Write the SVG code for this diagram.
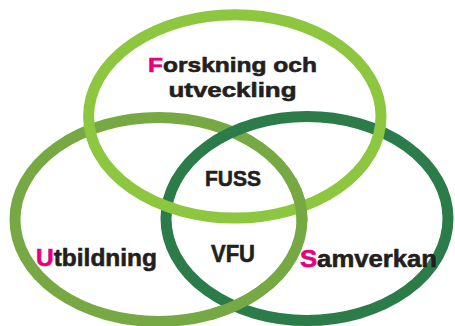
<svg xmlns="http://www.w3.org/2000/svg" width="455" height="326" viewBox="0 0 455 326">
<defs>
<clipPath id="overL">
<rect x="285" y="178" width="35" height="44"/>
<rect x="212" y="280" width="50" height="46"/>
</clipPath>
</defs>
<style>
.ring{fill:none;stroke-width:11}
.lbl{font-family:"Liberation Sans",Arial,sans-serif;font-weight:bold;fill:#231f20;stroke:#231f20;stroke-width:0.6}
.ini{fill:#e6007e;stroke:#e6007e}
</style>
<rect width="455" height="326" fill="#ffffff"/>
<g id="connectors"/>
<g id="utbildning">
<ellipse class="ring" cx="158.5" cy="219.5" rx="143.5" ry="102" stroke="#76a843"/>
<text class="lbl" x="36" y="266" font-size="24" textLength="121" lengthAdjust="spacingAndGlyphs"><tspan class="ini">U</tspan>tbildning</text>
</g>
<g id="samverkan">
<ellipse class="ring" cx="307" cy="218.5" rx="141" ry="102" stroke="#2b7c48"/>
<text class="lbl" x="300" y="266.5" font-size="24" textLength="137" lengthAdjust="spacingAndGlyphs"><tspan class="ini">S</tspan>amverkan</text>
</g>
<g id="forskning">
<ellipse class="ring" cx="234.8" cy="116.4" rx="146.2" ry="101.7" stroke="#8dc63f"/>
<text class="lbl" x="148" y="72" font-size="21" textLength="169" lengthAdjust="spacingAndGlyphs"><tspan class="ini">F</tspan>orskning och</text>
<text class="lbl" x="168.5" y="97" font-size="21" textLength="128" lengthAdjust="spacingAndGlyphs">utveckling</text>
</g>
<g id="utbildning-overlap">
<ellipse class="ring" cx="158.5" cy="219.5" rx="143.5" ry="102" stroke="#76a843" clip-path="url(#overL)"/>
</g>
<g id="fuss">
<text class="lbl" x="205" y="186" font-size="22" textLength="56" lengthAdjust="spacingAndGlyphs">FUSS</text>
</g>
<g id="vfu">
<text class="lbl" x="211" y="262" font-size="23" textLength="44" lengthAdjust="spacingAndGlyphs">VFU</text>
</g>
</svg>
